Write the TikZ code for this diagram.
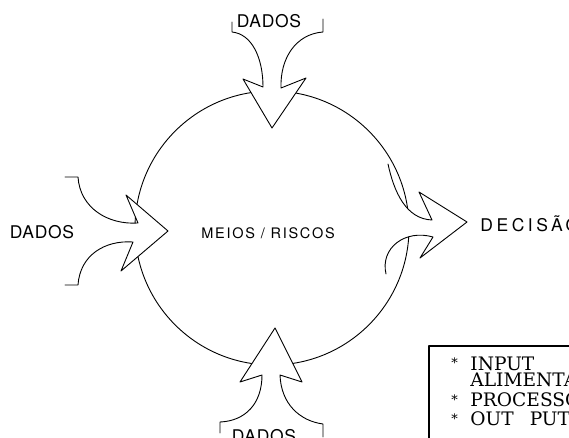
\documentclass[tikz,border=0pt]{standalone}
\usepackage{fontspec}
\setmainfont{DejaVu Serif}
\newfontfamily\lett{TeX Gyre Heros}
\begin{document}
\begin{tikzpicture}[x=1pt,y=-1pt,line width=0.9pt,line join=round,line cap=round,
  lbl/.style={inner sep=0pt,font=\lett\fontsize{17.5}{17.5}\selectfont\addfontfeature{LetterSpace=4}},
  mid/.style={inner sep=0pt,font=\lett\fontsize{14.5}{14.5}\selectfont\addfontfeature{LetterSpace=12}},
  leg/.style={inner sep=0pt,anchor=base west,font=\fontsize{18.6}{18.6}\selectfont},
  star/.style={inner sep=0pt,anchor=base west,font=\fontsize{13}{13}\selectfont},
  blank/.style={fill=white,draw=none}]
\clip (0,0) rectangle (569,438);
\fill[white] (0,0) rectangle (569,438);

% circle
\node[circle,draw,minimum size=274pt,inner sep=0pt,line width=0.9pt] (c) at (272,228) {};

% top arrow
\path[blank] (232,32) .. controls (252,34) and (263,58) .. (263,87) -- (243,79) -- (272,128) -- (306,78) -- (281,88) .. controls (280,58) and (296,34) .. (323,32) -- cycle;
\draw (232,22) -- (232,32) .. controls (252,34) and (263,58) .. (263,87) -- (243,79) -- (272,128) -- (306,78) -- (281,88) .. controls (280,58) and (296,34) .. (323,32) -- (323,19);

% left arrow
\path[blank] (78,177) .. controls (80,208) and (108,225) .. (138,223) -- (126,195) -- (168,231) -- (121,271) -- (133,242) .. controls (105,240) and (80,255) .. (78,285) -- cycle;
\draw (65,177) -- (78,177) .. controls (80,208) and (108,225) .. (138,223) -- (126,195) -- (168,231) -- (121,271) -- (133,242) .. controls (105,240) and (80,255) .. (78,285) -- (65,285);

% right arrow
\path[blank] (388,164) .. controls (394,192) and (406,219) .. (432,220) -- (419,192) -- (467,222) -- (420,258) -- (433,237) .. controls (405,229) and (380,248) .. (386,274) -- cycle;
\draw (388,164) .. controls (394,192) and (406,219) .. (432,220) -- (419,192) -- (467,222) -- (420,258) -- (433,237) .. controls (405,229) and (380,248) .. (386,274);

% bottom arrow
\path[blank] (220,422) .. controls (245,421) and (262,404) .. (262,375) -- (240,382) -- (275,328) -- (302,382) -- (280,375) .. controls (281,404) and (300,421) .. (323,424) -- cycle;
\draw (220,433) -- (220,422) .. controls (245,421) and (262,404) .. (262,375) -- (240,382) -- (275,328) -- (302,382) -- (280,375) .. controls (281,404) and (300,421) .. (323,424) -- (323,437);

% labels
\node[lbl,anchor=base] (dtop) at (269,28) {DADOS};
\node[lbl,anchor=base] (dleft) at (42,238) {DADOS};
\node[lbl,anchor=base] (dbot) at (264,442) {DADOS};
\node[lbl,anchor=base west,font=\lett\fontsize{17.5}{17.5}\selectfont\addfontfeature{LetterSpace=20}] (dec) at (480,231) {DECISÃO};
\node[mid,anchor=base] (meio) at (268,238) {MEIOS / RISCOS};

% legend
\draw[line width=2pt] (429,346) rectangle (640,480);
\node[star] (s1) at (451,367) {*};
\node[leg] (l1) at (470,370) {INPUT};
\node[leg] (l2) at (470,386) {ALIMENTAÇÃO};
\node[star] (s2) at (451,404) {*};
\node[leg] (l3) at (470,406) {PROCESSO};
\node[star] (s3) at (451,423) {*};
\node[leg] (l4) at (470,425) {OUT\hspace{16pt}PUT};
\end{tikzpicture}
\end{document}
